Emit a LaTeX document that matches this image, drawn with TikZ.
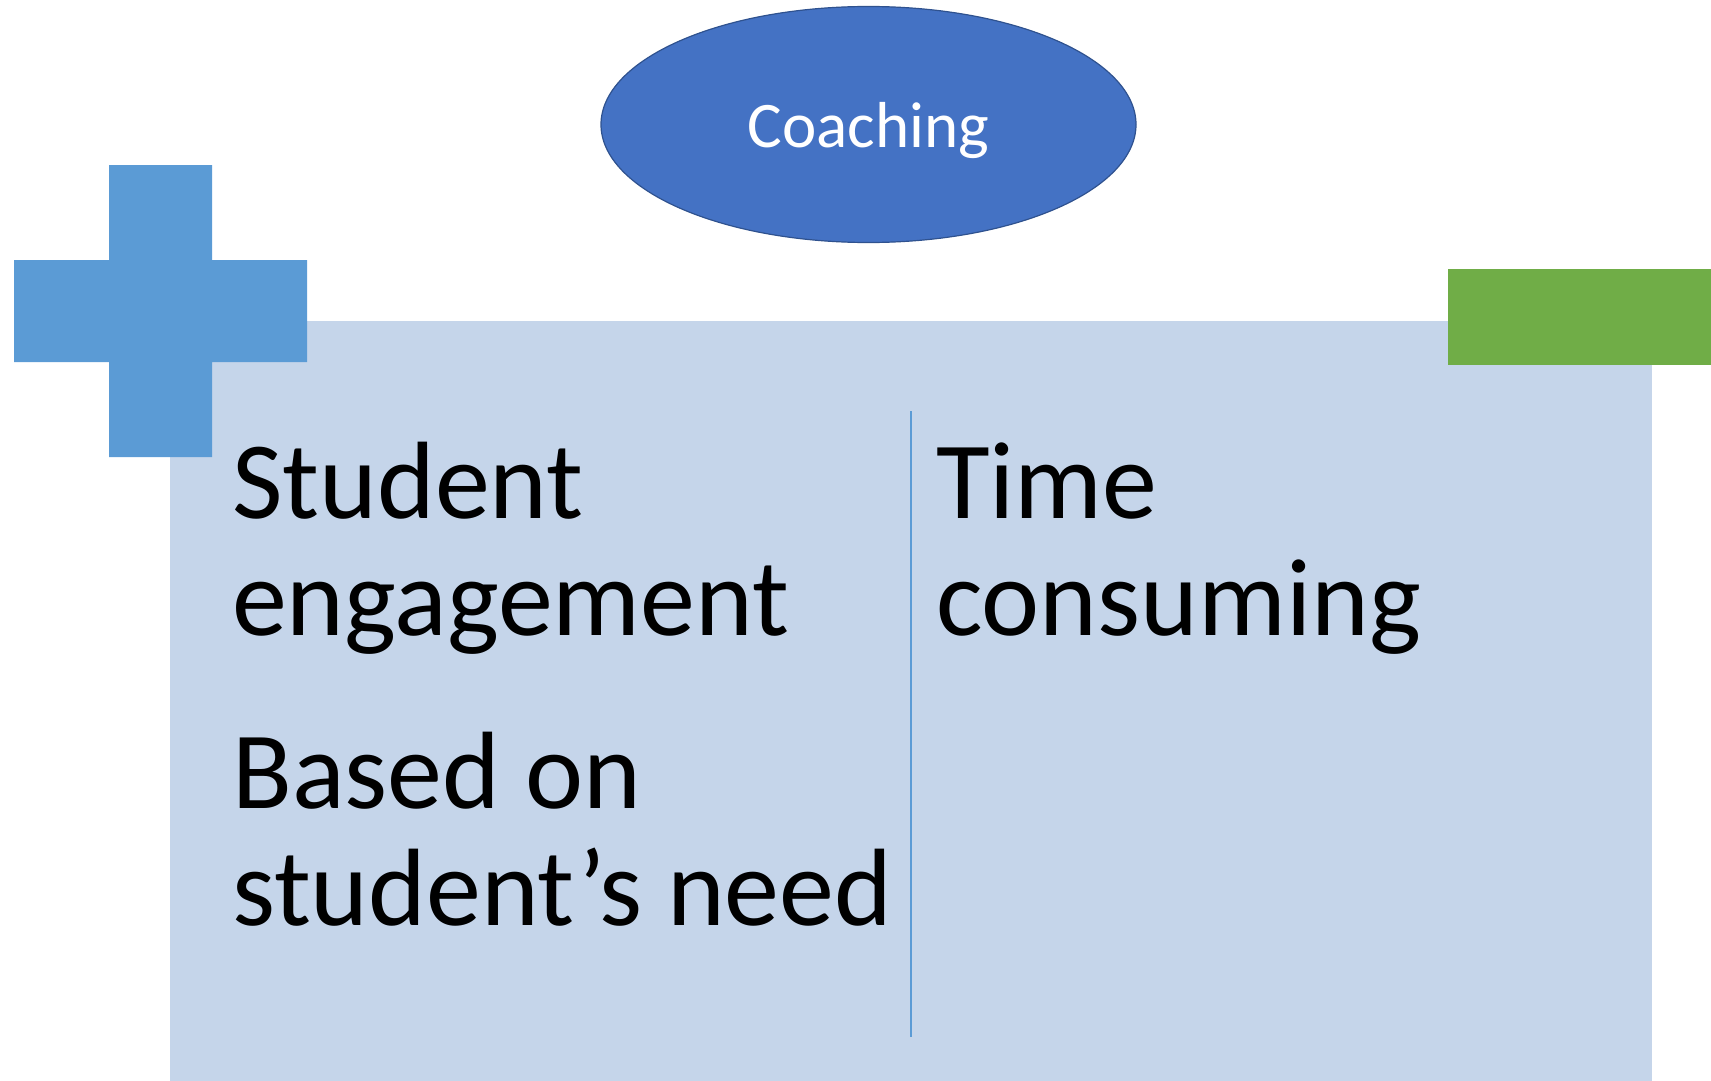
\documentclass[tikz,border=0pt]{standalone}
\usepackage{fontspec}
\setmainfont{Carlito}
\usepackage{tikz}
\usetikzlibrary{shapes.geometric}

\definecolor{coachblue}{HTML}{4472C4}
\definecolor{coachedge}{HTML}{2F528F}
\definecolor{plusblue}{HTML}{5B9BD5}
\definecolor{minusgreen}{HTML}{70AD47}
\definecolor{panelblue}{HTML}{C5D5EA}

\tikzset{
  bigtext/.style={anchor=base west, inner sep=0pt, align=left,
    font=\fontsize{110}{117}\selectfont},
}

\begin{document}
\begin{tikzpicture}[x=1pt,y=-1pt]
		\useasboundingbox (0,0) rectangle (1711,1081);

		% panel and divider
		\fill[panelblue] (170,321) rectangle (1652,1081);
		\draw[plusblue,line width=2pt] (911,411) -- (911,1037);

		% plus sign
		\fill[plusblue] (109,165) -- (212,165) -- (212,260) -- (307,260) -- (307,362)
			-- (212,362) -- (212,457) -- (109,457) -- (109,362) -- (14,362)
			-- (14,260) -- (109,260) -- cycle;

		% minus sign
		\fill[minusgreen] (1448,269) rectangle (1711,365);

		% title
		\node[ellipse, fill=coachblue, draw=coachedge, line width=1.2pt,
			minimum width=535pt, minimum height=236pt, text=white,
			text height=46pt, text depth=0pt,
			font=\fontsize{65}{65}\selectfont] (coaching) at (868.5,124.5) {Coaching};

		% base anchor sits on the last line
		\node[bigtext] (engage) at (232,635) {Student\\engagement};
		\node[bigtext] (need) at (232,925) {Based on\\student’s need};
		\node[bigtext] (time) at (936,635) {Time\\consuming};
	\end{tikzpicture}
\end{document}
